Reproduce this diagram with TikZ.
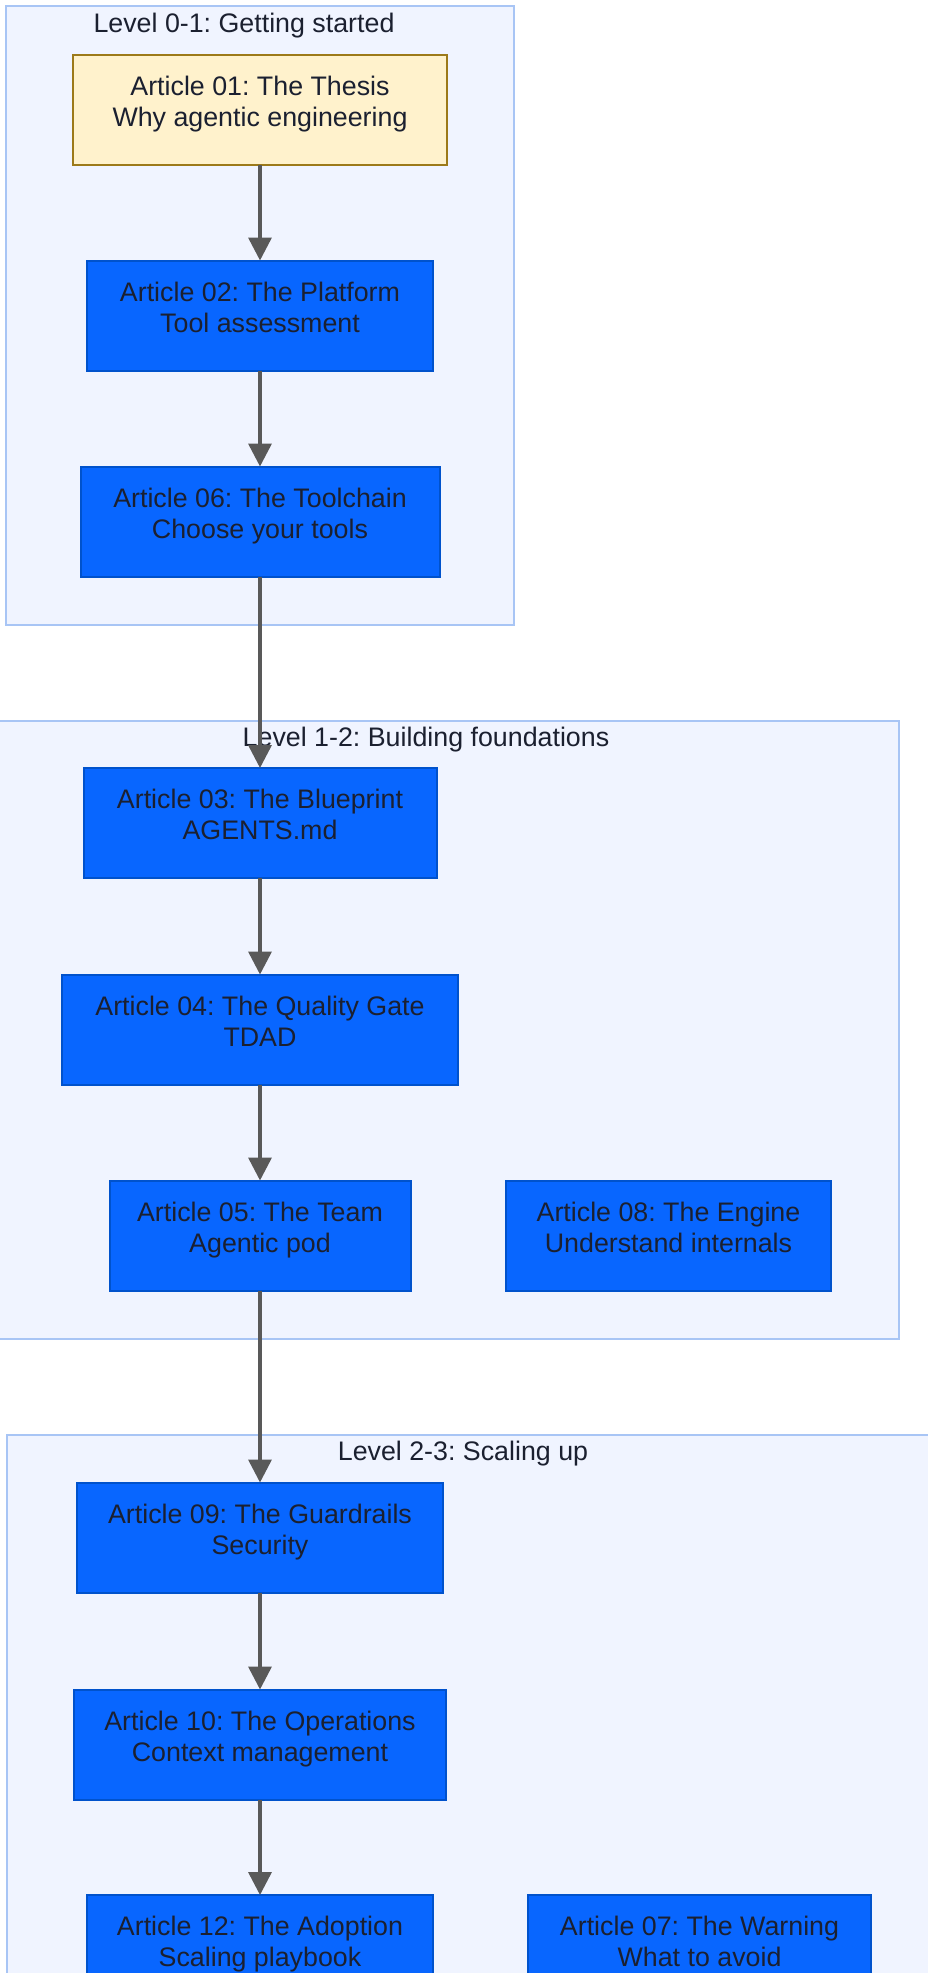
\documentclass[tikz,border=0pt]{standalone}
\usepackage{fontspec}
\setmainfont{Liberation Sans}
\usetikzlibrary{arrows.meta}
\frenchspacing

\definecolor{grpfill}{HTML}{F0F4FF}
\definecolor{grpline}{HTML}{A8C5F5}
\definecolor{artfill}{HTML}{0866FF}
\definecolor{artline}{HTML}{0052CC}
\definecolor{thesisfill}{HTML}{FFF2CC}
\definecolor{thesisline}{HTML}{9C7A1A}
\definecolor{ink}{HTML}{1B2030}
\definecolor{edge}{HTML}{595959}

\begin{document}
\begin{tikzpicture}[x=1pt,y=-1pt,
  every node/.style={font=\fontsize{26.8}{31}\selectfont, text=ink},
  grp/.style={draw=grpline, fill=grpfill, line width=2pt},
  article/.style={draw=artline, fill=artfill, line width=2pt, minimum height=110pt,
    align=center, text height=51pt, text depth=18pt, inner sep=0pt, outer sep=0pt},
  thesis/.style={article, draw=thesisline, fill=thesisfill},
  title/.style={anchor=base, inner sep=0pt},
  flow/.style={-{Triangle[width=23pt,length=23pt]}, draw=edge, line width=3.5pt}]
  \clip (0,0) rectangle (928,1973);

  % levels
  \draw[grp] (6,6) rectangle (514,625);
  \draw[grp] (-15,721) rectangle (899,1339);
  \draw[grp] (7,1435) rectangle (951,2100);

  \node[title] (lvl01) at (244,32) {Level 0-1: Getting started};
  \node[title] (lvl12) at (426,746) {Level 1-2: Building foundations};
  \node[title] (lvl23) at (463,1460) {Level 2-3: Scaling up};

  % articles
  \node[thesis, minimum width=374pt] (a01) at (260,109.5) {Article 01: The Thesis\\Why agentic engineering};
  \node[article, minimum width=346pt] (a02) at (260,315.5) {Article 02: The Platform\\Tool assessment};
  \node[article, minimum width=359pt] (a06) at (260,521.5) {Article 06: The Toolchain\\Choose your tools};

  \node[article, minimum width=353pt] (a03) at (260,823) {Article 03: The Blueprint\\AGENTS.md};
  \node[article, minimum width=396pt] (a04) at (260,1029.5) {Article 04: The Quality Gate\\TDAD};
  \node[article, minimum width=301pt] (a05) at (260,1235.5) {Article 05: The Team\\Agentic pod};
  \node[article, minimum width=325pt] (a08) at (668.5,1235.5) {Article 08: The Engine\\Understand internals};

  \node[article, minimum width=366pt] (a09) at (260,1537.5) {Article 09: The Guardrails\\Security};
  \node[article, minimum width=372pt] (a10) at (260,1744.5) {Article 10: The Operations\\Context management};
  \node[article, minimum width=346pt] (a12) at (260,1950) {Article 12: The Adoption\\Scaling playbook};
  \node[article, minimum width=343pt] (a07) at (699.5,1950) {Article 07: The Warning\\What to avoid};

  \draw[flow] (a01) -- (a02);
  \draw[flow] (a02) -- (a06);
  \draw[flow] (a06) -- (a03);
  \draw[flow] (a03) -- (a04);
  \draw[flow] (a04) -- (a05);
  \draw[flow] (a05) -- (a09);
  \draw[flow] (a09) -- (a10);
  \draw[flow] (a10) -- (a12);

\end{tikzpicture}
\end{document}
